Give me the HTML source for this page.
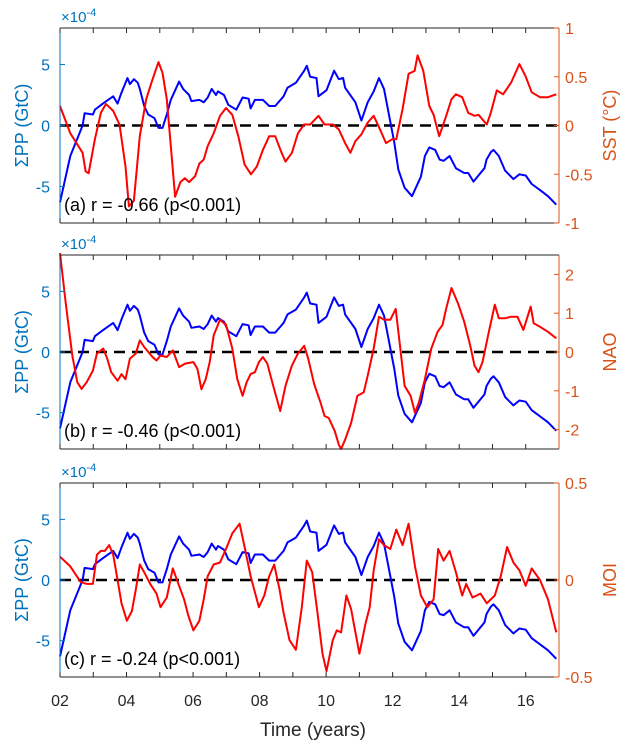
<!DOCTYPE html>
<html><head><meta charset="utf-8"><style>
html,body{margin:0;padding:0;background:#fff;}
svg{display:block;font-family:"Liberation Sans",sans-serif;}
</style></head><body>
<svg id="fig" width="644" height="751" viewBox="0 0 644 751"></svg>
<script>
const years=[2,3,4,5,6,7,8,9,10,11,12,13,14,15,16];
const xTickLabels=["02","04","06","08","10","12","14","16"];
const ppT=[2.00,2.31,2.68,2.74,2.99,3.05,3.29,3.60,3.73,3.85,4.03,4.10,4.22,4.34,4.40,4.53,4.65,4.84,4.96,5.08,5.21,5.33,5.58,5.70,5.88,5.95,6.19,6.32,6.44,6.56,6.69,6.75,6.93,7.06,7.30,7.49,7.67,7.73,7.86,8.10,8.29,8.47,8.72,8.84,9.09,9.34,9.42,9.52,9.71,9.77,10.01,10.24,10.38,10.51,10.57,10.88,11.06,11.25,11.43,11.59,11.74,11.86,12.05,12.17,12.36,12.58,12.85,12.97,13.10,13.28,13.41,13.53,13.71,13.90,14.15,14.27,14.43,14.64,14.76,14.82,14.95,15.03,15.19,15.38,15.63,15.81,16.00,16.18,16.43,16.67,16.92];
const ppV=[-6.3,-2.5,0,1.0,0.9,1.3,1.8,2.4,1.8,2.7,3.9,3.4,3.8,3.5,3.0,1.6,0.9,0.6,-0.2,-0.2,0.9,2.1,3.6,3.0,2.5,2.0,2.1,1.9,2.3,3.0,2.5,2.8,2.5,1.7,1.3,2.3,2.2,1.4,2.1,2.1,1.6,1.6,2.4,3.1,3.5,4.5,4.9,4.0,3.9,2.4,2.9,4.5,3.8,3.9,3.1,1.9,0.4,1.9,2.8,3.9,3.0,1.3,-1.4,-3.6,-5.1,-5.8,-4.2,-2.5,-1.8,-2.0,-2.8,-2.9,-2.5,-3.5,-3.9,-3.9,-4.6,-3.9,-3.5,-2.8,-2.2,-2.0,-2.5,-3.7,-4.4,-4.0,-4.1,-4.8,-5.3,-5.8,-6.5];
const sstT=[2.00,2.31,2.55,2.68,2.77,2.86,3.05,3.23,3.38,3.60,3.79,3.97,4.07,4.22,4.40,4.59,4.77,4.96,5.08,5.21,5.33,5.46,5.62,5.75,5.88,6.06,6.19,6.32,6.44,6.62,6.81,6.99,7.18,7.36,7.55,7.74,7.92,8.10,8.29,8.47,8.66,8.78,8.97,9.15,9.34,9.52,9.77,9.95,10.20,10.38,10.57,10.73,10.88,11.06,11.25,11.43,11.62,11.80,11.99,12.11,12.30,12.48,12.66,12.75,12.92,13.10,13.23,13.40,13.59,13.77,13.90,14.09,14.27,14.46,14.58,14.83,14.95,15.13,15.32,15.56,15.81,15.99,16.18,16.43,16.67,16.92];
const sstV=[0.2,-0.08,-0.21,-0.28,-0.47,-0.49,-0.14,0.13,0.22,0.15,0.01,-0.42,-0.83,-0.77,-0.11,0.27,0.46,0.65,0.54,0.27,-0.21,-0.73,-0.58,-0.54,-0.58,-0.52,-0.39,-0.35,-0.21,-0.08,0.1,0.18,0.11,-0.11,-0.4,-0.5,-0.42,-0.25,-0.11,-0.11,-0.28,-0.37,-0.28,-0.08,0.01,0.01,0.1,0.01,0.01,-0.04,-0.18,-0.28,-0.16,-0.09,0.03,0.1,-0.04,-0.18,-0.14,-0.14,0.17,0.53,0.56,0.72,0.56,0.2,0.11,-0.11,0.08,0.27,0.32,0.29,0.13,0.1,0.11,0.01,0.13,0.36,0.32,0.44,0.63,0.51,0.34,0.29,0.29,0.32];
const naoT=[2.00,2.18,2.37,2.52,2.65,2.80,2.99,3.11,3.30,3.42,3.54,3.73,3.85,3.97,4.10,4.28,4.40,4.53,4.78,4.90,5.02,5.21,5.39,5.58,5.76,6.01,6.13,6.25,6.38,6.50,6.62,6.81,6.99,7.18,7.33,7.49,7.61,7.73,7.86,7.98,8.10,8.23,8.41,8.62,8.78,8.97,9.15,9.34,9.46,9.64,9.83,9.95,10.08,10.26,10.38,10.45,10.57,10.75,10.94,11.13,11.25,11.43,11.59,11.74,11.93,12.09,12.23,12.36,12.54,12.67,12.79,12.97,13.16,13.35,13.50,13.60,13.77,13.96,14.15,14.33,14.46,14.58,14.70,14.88,15.07,15.19,15.38,15.56,15.75,15.93,16.15,16.24,16.43,16.67,16.92];
const naoV=[2.55,1.2,-0.09,-0.78,-0.95,-0.78,-0.48,-0.04,0.09,-0.17,-0.52,-0.74,-0.57,-0.7,-0.17,-0.04,0.3,0.13,-0.13,-0.22,-0.09,-0.13,0.04,-0.39,-0.3,-0.26,-0.43,-0.96,-0.7,-0.26,0.43,0.83,0.7,0.09,-0.7,-1.13,-0.78,-0.57,-0.52,-0.26,-0.13,-0.3,-0.87,-1.52,-0.87,-0.35,-0.04,0.16,-0.17,-0.83,-1.3,-1.65,-1.7,-2.04,-2.39,-2.5,-2.26,-1.83,-1.13,-1.04,-0.61,0.09,0.91,0.83,0.83,1.11,0.09,-0.87,-1.13,-1.57,-1.3,-0.7,0.09,0.52,0.7,1.09,1.65,1.26,0.78,0.17,-0.35,-0.52,-0.26,0.48,1.22,0.87,0.87,0.91,0.91,0.57,1.17,0.74,0.65,0.52,0.35];
const moiT=[2.00,2.31,2.62,2.80,2.99,3.11,3.23,3.35,3.48,3.60,3.73,3.85,4.01,4.16,4.28,4.40,4.53,4.71,4.90,5.02,5.21,5.39,5.58,5.73,5.85,6.01,6.19,6.32,6.44,6.62,6.81,6.99,7.18,7.40,7.55,7.73,7.98,8.14,8.29,8.44,8.60,8.72,8.90,9.09,9.27,9.42,9.58,9.74,9.89,10.01,10.20,10.32,10.45,10.61,10.75,11.00,11.19,11.31,11.43,11.59,11.74,11.93,12.11,12.30,12.48,12.67,12.85,13.04,13.23,13.37,13.53,13.71,13.90,14.09,14.21,14.40,14.64,14.83,15.07,15.25,15.44,15.63,15.81,16.00,16.18,16.43,16.67,16.92];
const moiV=[0.12,0.07,-0.01,-0.02,-0.02,0.13,0.15,0.15,0.18,0.13,0.0,-0.12,-0.21,-0.16,-0.05,0.08,0.04,-0.02,-0.07,-0.14,-0.09,0.06,-0.03,-0.1,-0.18,-0.26,-0.21,-0.1,0.02,0.08,0.09,0.16,0.24,0.29,0.17,0.02,-0.14,-0.08,0.02,0.08,-0.05,-0.17,-0.31,-0.36,-0.14,0.1,0.04,-0.17,-0.38,-0.47,-0.31,-0.26,-0.27,-0.08,-0.15,-0.38,-0.22,-0.14,0.05,0.21,0.18,0.16,0.26,0.18,0.29,0.07,-0.08,-0.14,-0.1,0.16,0.1,0.15,0.04,-0.08,-0.02,-0.09,-0.07,-0.12,-0.08,0.02,0.17,0.09,0.05,-0.03,0.06,0.0,-0.1,-0.27];
const sstTicks=[1,0.5,0,-0.5,-1], sstTickLabels=["1","0.5","0","-0.5","-1"];
const naoTicks=[2,1,0,-1,-2], naoTickLabels=["2","1","0","-1","-2"];
const moiTicks=[0.5,0,-0.5], moiTickLabels=["0.5","0","-0.5"];
const ppTicks=[5,0,-5], ppTickLabels=["5","0","-5"];

const NS="http://www.w3.org/2000/svg", svg=document.getElementById('fig');
const L=60,R=559,BLUE="#0072BD",ORG="#D95319",AX="#262626";
function mk(t,a,p){const e=document.createElementNS(NS,t);for(const k in a)e.setAttribute(k,a[k]);(p||svg).appendChild(e);return e;}
const xs=v=>L+(v-2)/15*(R-L);
const panels=[
 {top:28,bot:223,rmin:-1,rmax:1,t:sstT,v:sstV,ticks:sstTicks,tl:sstTickLabels,rl:"SST (°C)",ann:"(a) r = -0.66 (p<0.001)",id:"a"},
 {top:255,bot:449,rmin:-2.5,rmax:2.5,t:naoT,v:naoV,ticks:naoTicks,tl:naoTickLabels,rl:"NAO",ann:"(b) r = -0.46 (p<0.001)",id:"b"},
 {top:483,bot:677,rmin:-0.5,rmax:0.5,t:moiT,v:moiV,ticks:moiTicks,tl:moiTickLabels,rl:"MOI",ann:"(c) r = -0.24 (p<0.001)",id:"c"}];
panels.forEach((p,pi)=>{
 const g=mk('g',{});
 
 
 const yl=v=>p.top+(8-v)/16*(p.bot-p.top);
 const yr=v=>p.top+(p.rmax-v)/(p.rmax-p.rmin)*(p.bot-p.top);
 // zero line
 const z=mk('line',{x1:L,x2:R,y1:yl(0),y2:yl(0),stroke:"#000","stroke-width":2.5,"stroke-dasharray":"11 7"},g);
 
 // blue
 const bp=mk('polyline',{fill:"none",stroke:"#0000FF","stroke-width":2,"stroke-linejoin":"round",points:ppT.map((t,i)=>xs(t).toFixed(1)+","+yl(ppV[i]).toFixed(1)).join(" ")},g);
 
 const rp=mk('polyline',{fill:"none",stroke:"#FF0000","stroke-width":2,"stroke-linejoin":"round",points:p.t.map((t,i)=>xs(t).toFixed(1)+","+yr(p.v[i]).toFixed(1)).join(" ")},g);
 
 // box
 mk('line',{x1:L,x2:R,y1:p.top,y2:p.top,stroke:AX,"stroke-width":1},g);
 mk('line',{x1:L,x2:R,y1:p.bot,y2:p.bot,stroke:AX,"stroke-width":1},g);
 mk('line',{x1:L,x2:L,y1:p.top,y2:p.bot,stroke:BLUE,"stroke-width":1},g);
 mk('line',{x1:R,x2:R,y1:p.top,y2:p.bot,stroke:ORG,"stroke-width":1},g);
 years.forEach(y=>{mk('line',{x1:xs(y),x2:xs(y),y1:p.bot,y2:p.bot-5,stroke:AX},g);mk('line',{x1:xs(y),x2:xs(y),y1:p.top,y2:p.top+5,stroke:AX},g);});
 ppTicks.forEach((v,i)=>{mk('line',{x1:L,x2:L+5,y1:yl(v),y2:yl(v),stroke:BLUE},g);
  const t=mk('text',{x:L-10,y:yl(v)+6,"text-anchor":"end","font-size":16,fill:BLUE},g);t.textContent=ppTickLabels[i];
  });
 p.ticks.forEach((v,i)=>{mk('line',{x1:R,x2:R-5,y1:yr(v),y2:yr(v),stroke:ORG},g);
  const t=mk('text',{x:R+6,y:yr(v)+6,"font-size":16,fill:ORG},g);t.textContent=p.tl[i];
  });
 const ex=mk('text',{x:L+1,y:p.top-6,"font-size":15,fill:BLUE},g);
 ex.innerHTML='×10<tspan dy="-6" font-size="11">-4</tspan>';
 
 const ylb=mk('text',{x:0,y:0,"font-size":18,fill:BLUE,"text-anchor":"middle",transform:`translate(28,${(p.top+p.bot)/2}) rotate(-90)`},g);
 ylb.textContent="ΣPP (GtC)";
 const yrb=mk('text',{x:0,y:0,"font-size":18,fill:ORG,"text-anchor":"middle",transform:`translate(616,${(p.top+p.bot)/2}) rotate(-90)`},g);
 yrb.textContent=p.rl;
 const an=mk('text',{x:64,y:p.bot-12,"font-size":18,fill:"#000"},g);
 an.textContent=p.ann;
});
xTickLabels.forEach((s,i)=>{const t=mk('text',{x:xs(2+2*i),y:706,"text-anchor":"middle","font-size":16,fill:AX});t.textContent=s;
 });
const xt=mk('text',{x:313,y:736,"text-anchor":"middle","font-size":19,fill:AX});xt.textContent="Time (years)";

</script>
</body></html>
